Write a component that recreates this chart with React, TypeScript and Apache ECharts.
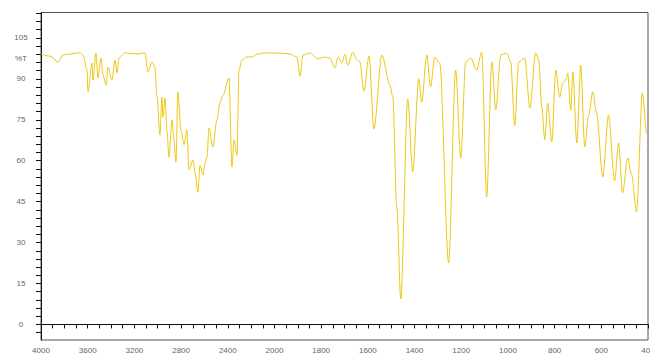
import React, { useEffect, useRef } from "react";
import * as echarts from "echarts";

// Wavenumbers (cm-1) and transmittance (%T)
const wavenumbers = [
  4000, 3923, 3854, 3812, 3752, 3666, 3640, 3606, 3597, 3563, 3555, 3529, 3512, 3486, 3469, 3443,
  3426, 3392, 3366, 3349, 3332, 3306, 3281, 3178, 3109, 3084, 3049, 3024, 3006, 2981, 2964, 2955,
  2938, 2921, 2904, 2878, 2861, 2844, 2827, 2801, 2775, 2750, 2732, 2698, 2681, 2655, 2638, 2612,
  2595, 2578, 2561, 2527, 2493, 2467, 2441, 2390, 2364, 2347, 2321, 2304, 2279, 2236, 2193, 2141,
  2082, 2000, 1989, 1934, 1904, 1891, 1878, 1848, 1814, 1784, 1762, 1741, 1728, 1711, 1698, 1686,
  1664, 1647, 1634, 1617, 1595, 1574, 1540, 1505, 1493, 1476, 1459, 1429, 1408, 1382, 1369, 1348,
  1331, 1314, 1292, 1254, 1224, 1202, 1181, 1159, 1134, 1112, 1091, 1069, 1052, 1031, 1005, 988,
  971, 954, 928, 906, 881, 868, 855, 842, 830, 812, 795, 778, 765, 752, 744, 731,
  722, 705, 688, 671, 654, 637, 620, 594, 569, 543, 526, 509, 487, 470, 449, 424,
  406, 400,
];
const transmittance = [
  99.0, 98.3, 96.2, 98.7, 99.1, 99.6, 98.7, 93.2, 85.2, 95.8, 89.6, 99.5, 90.3, 97.6, 91.4, 87.7,
  94.3, 89.6, 96.9, 92.1, 97.6, 98.7, 99.5, 99.1, 99.5, 92.5, 96.2, 94.3, 83.3, 69.4, 83.3, 76.0,
  83.0, 71.2, 61.3, 75.0, 67.6, 59.5, 85.2, 71.2, 65.8, 71.2, 56.6, 60.3, 55.5, 48.5, 58.4, 54.8,
  59.2, 61.3, 72.0, 65.0, 75.0, 81.1, 84.0, 90.3, 57.7, 67.6, 62.0, 93.2, 96.9, 98.0, 98.0, 99.1,
  99.5, 99.4, 99.5, 99.1, 98.0, 91.0, 98.7, 99.5, 97.3, 98.0, 97.6, 93.9, 98.0, 95.8, 99.1, 95.0,
  99.8, 96.9, 96.2, 85.5, 98.4, 71.6, 98.7, 87.7, 83.3, 43.0, 9.3, 82.6, 55.9, 90.0, 81.5, 98.7,
  87.0, 98.0, 95.8, 22.5, 93.2, 61.0, 96.2, 97.6, 93.2, 99.8, 46.7, 96.2, 78.6, 98.7, 99.5, 96.2,
  72.7, 96.2, 97.6, 79.3, 99.5, 96.9, 79.7, 67.6, 81.1, 66.8, 93.2, 83.3, 88.4, 89.6, 92.1, 78.6,
  92.5, 66.5, 95.0, 65.0, 76.7, 85.2, 77.5, 54.0, 76.7, 52.6, 66.5, 48.2, 61.0, 54.8, 41.2, 84.8,
  70.1, 69.4,
];

// Tick labels
const xTickLabels = [4000, 3600, 3200, 2800, 2400, 2000, 1800, 1600, 1400, 1200, 1000, 800, 600, 400];
const yTickLabels = [0, 15, 30, 45, 60, 75, 90, 105];
const yUnitLabel = "%T";

// piecewise wavenumber scale: 400 cm-1 per division above 2000, 200 below
const toU = (w: number) => (w >= 2000 ? (4000 - w) / 400 : 5 + (2000 - w) / 200);

export default function App() {
  const ref = useRef<HTMLDivElement>(null);
  useEffect(() => {
    if (!ref.current) return;
    const chart = echarts.init(ref.current, null, { renderer: "svg" });
    const xLabelVals = xTickLabels.map(toU);
    const xTickVals: number[] = [];
    for (let i = 0; i <= 52; i++) xTickVals.push(i / 4);
    const yTickVals: number[] = [];
    for (let v = -3; v <= 114; v += 3) yTickVals.push(v);
    const yLabelVals = [...yTickLabels, 97.5];
    chart.setOption({
      animation: false,
      grid: {
        left: 41,
        right: 2,
        top: 12.5,
        bottom: 16,
        show: true,
        borderColor: "#555",
        borderWidth: 1,
        containLabel: false,
        outerBoundsMode: "none",
      },
      xAxis: {
        type: "value",
        min: 0,
        max: 13,
        splitLine: { show: false },
        axisLine: { lineStyle: { color: "#111", width: 1 } },
        axisTick: {
          customValues: xTickVals,
          length: 4,
          lineStyle: { color: "#111" },
        },
        axisLabel: {
          customValues: xLabelVals,
          formatter: (v: number) => {
            const idx = xLabelVals.findIndex((u) => Math.abs(u - v) < 1e-6);
            return idx >= 0 ? String(xTickLabels[idx]) : "";
          },
          color: "#666",
          fontSize: 8,
          fontFamily: "Liberation Sans, Arial, sans-serif",
          margin: 6,
          showMaxLabel: true,
          showMinLabel: true,
        },
      },
      yAxis: {
        type: "value",
        min: -5.7,
        max: 114.3,
        splitLine: { show: false },
        axisLine: { show: true, lineStyle: { color: "#111", width: 1 } },
        axisTick: {
          show: true,
          customValues: yTickVals,
          length: 5,
          lineStyle: { color: "#111" },
        },
        axisLabel: {
          customValues: yLabelVals,
          formatter: (v: number) => (Math.abs(v - 97.5) < 1e-6 ? yUnitLabel : String(v)),
          color: "#666",
          fontSize: 8,
          fontFamily: "Liberation Sans, Arial, sans-serif",
          align: "center",
          margin: 20,
        },
      },
      series: [
        {
          type: "line",
          data: wavenumbers.map((w, i) => [toU(w), transmittance[i]]),
          showSymbol: false,
          symbol: "none",
          smooth: 0.3,
          smoothMonotone: "x",
          lineStyle: { color: "#ECC813", width: 1 },
          itemStyle: { color: "#ECC813" },
        },
      ],
    });
    return () => chart.dispose();
  }, []);
  return (
    <div
      ref={ref}
      style={{ position: "fixed", left: 0, top: 0, width: 650, height: 356, background: "#fff" }}
    />
  );
}
